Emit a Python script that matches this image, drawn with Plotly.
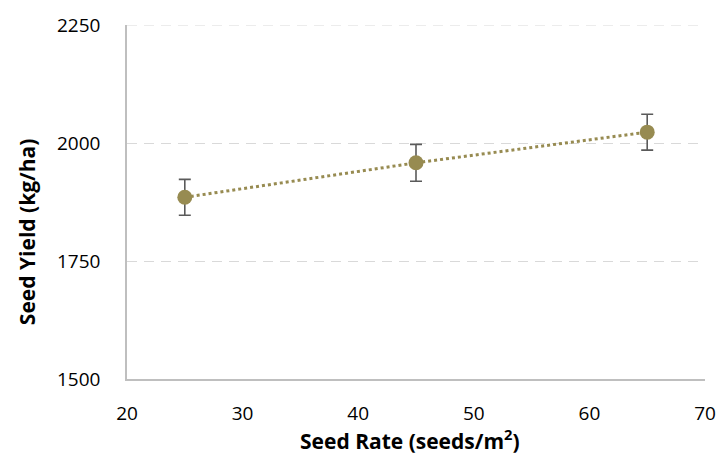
import plotly.graph_objects as go

# Seed rate trial: mean yield with standard error
seed_rate = [25, 45, 65]
seed_yield = [1885, 1958, 2023]
yield_err = [38, 39, 38]

x_ticks = [20, 30, 40, 50, 60, 70]
y_ticks = [1500, 1750, 2000, 2250]

x_title = "<b>Seed Rate (seeds/m<sup>2</sup>)</b>"
y_title = "<b>Seed Yield (kg/ha)</b>"

olive = "#978B51"
grid_color = "#D9D9D9"
axis_color = "#BFBFBF"

fig = go.Figure()
fig.add_trace(go.Scatter(
    x=seed_rate, y=seed_yield,
    mode="lines+markers",
    line=dict(color=olive, width=3, dash="dot"),
    marker=dict(color=olive, size=15),
    error_y=dict(type="data", array=yield_err, visible=True,
                 color="#5A5A5A", thickness=1.6, width=6),
    showlegend=False,
))

# dashed gridline along the top of the plot area
fig.add_shape(type="line", xref="paper", yref="y",
              x0=0, x1=1, y0=y_ticks[-1], y1=y_ticks[-1],
              line=dict(color=grid_color, width=1.2, dash="10px,7px"),
              layer="below")

fig.update_layout(
    width=728, height=454,
    margin=dict(l=127, r=15, t=21, b=75),
    plot_bgcolor="white", paper_bgcolor="white",
    font=dict(family="Open Sans", size=19, color="#000000"),
)
fig.update_xaxes(
    range=[20, 70], tickvals=x_ticks, showgrid=False, zeroline=False,
    showline=True, linecolor=axis_color, linewidth=1.5,
    ticks="outside", ticklen=16, tickcolor="white",
    tickfont_size=19, tickfont_family="Open Sans",
)
fig.update_yaxes(
    range=[1500, 2250], tickvals=y_ticks, showgrid=True,
    gridcolor=grid_color, griddash="10px,7px", gridwidth=1.2,
    zeroline=False,
    showline=True, linecolor=axis_color, linewidth=1.5,
    ticks="outside", ticklen=21, tickcolor="white",
    tickfont_size=19, tickfont_family="Open Sans",
)
fig.add_annotation(text=x_title, xref="paper", yref="paper",
                   x=0.49, y=-0.17, xanchor="center", yanchor="middle",
                   showarrow=False, font=dict(family="Open Sans", size=21))
fig.add_annotation(text=y_title, xref="paper", yref="paper",
                   x=-0.174, y=0.416, xanchor="center", yanchor="middle",
                   textangle=-90, showarrow=False,
                   font=dict(family="Open Sans", size=21))

fig.write_html("out.html")
